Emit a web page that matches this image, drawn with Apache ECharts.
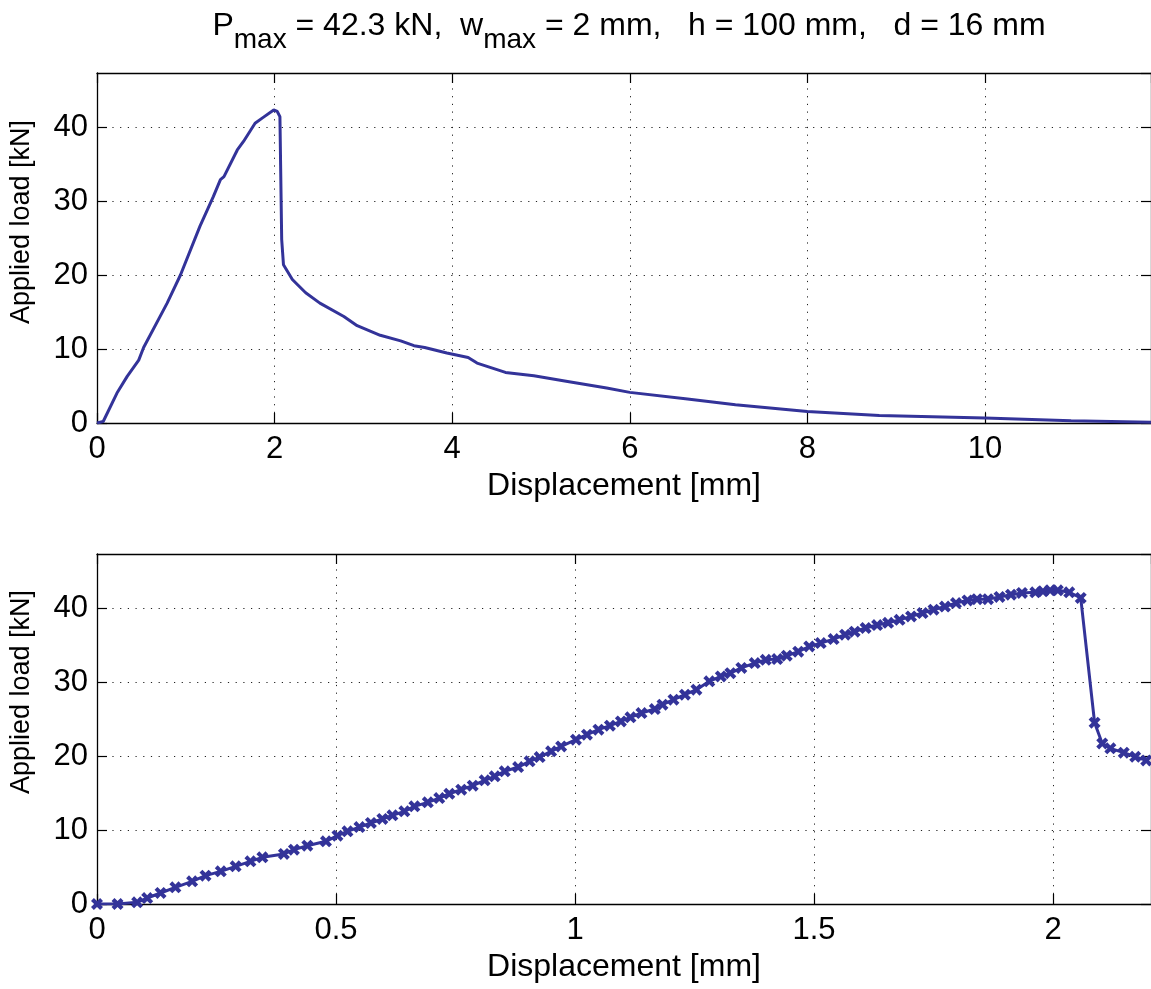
<!DOCTYPE html>
<html><head><meta charset="utf-8">
<script src="https://cdn.jsdelivr.net/npm/echarts@6/dist/echarts.min.js"></script>
<style>html,body{margin:0;padding:0;background:#fff}#c{width:1151px;height:989px}</style>
</head><body><div id="c"></div>
<script>
// ---- data ----
const topX = [0,0.07,0.225,0.34,0.47,0.525,0.79,0.94,1.16,1.31,1.39,1.43,1.58,1.65,1.78,1.86,1.99,2.03,2.06,2.08,2.10,2.20,2.35,2.51,2.78,2.93,3.19,3.42,3.57,3.69,3.94,4.18,4.28,4.60,4.92,5.30,5.74,6.00,6.65,7.19,8.0,8.81,10.0,10.97,11.87];
const topY = [0,0.2,4.05,6.3,8.5,10.2,16.2,20.0,26.6,30.6,32.9,33.3,36.9,38.05,40.5,41.2,42.3,42.1,41.4,24.8,21.4,19.4,17.6,16.2,14.4,13.15,11.85,11.1,10.45,10.2,9.45,8.85,8.1,6.84,6.39,5.62,4.73,4.14,3.24,2.47,1.57,1.03,0.68,0.31,0.09];

const botX = [0,0.043,0.084,0.105,0.133,0.164,0.199,0.227,0.259,0.29,0.321,0.346,0.391,0.412,0.44,0.479,0.503,0.524,0.549,0.573,0.597,0.618,0.643,0.664,0.692,0.716,0.737,0.762,0.786,0.811,0.832,0.853,0.881,0.905,0.926,0.95,0.971,1.002,1.025,1.049,1.073,1.096,1.116,1.139,1.167,1.183,1.206,1.230,1.254,1.281,1.305,1.325,1.348,1.376,1.399,1.423,1.443,1.467,1.490,1.514,1.541,1.565,1.585,1.608,1.632,1.655,1.679,1.703,1.727,1.750,1.774,1.797,1.821,1.841,1.864,1.888,1.912,1.935,1.963,1.979,1.994,2.010,2.034,2.058,2.087,2.103,2.120,2.148,2.172,2.195];
const botY = [0,0,0.23,0.81,1.49,2.25,3.06,3.83,4.41,5.09,5.77,6.31,6.76,7.34,7.88,8.47,9.23,9.82,10.4,10.95,11.49,11.98,12.52,13.2,13.74,14.32,14.9,15.45,15.99,16.71,17.25,17.93,18.51,19.28,19.86,20.63,21.3,22.2,22.88,23.56,24.1,24.68,25.23,25.81,26.35,26.94,27.61,28.29,28.96,30.1,30.76,31.2,31.9,32.56,33.0,33.1,33.55,34.1,34.8,35.26,35.8,36.4,36.8,37.3,37.7,38.0,38.4,38.87,39.32,39.77,40.2,40.67,41.03,41.2,41.2,41.5,41.8,42.04,42.13,42.26,42.4,42.4,42.13,41.36,24.5,21.7,21.04,20.45,19.9,19.4];

const topXTicks = [0,2,4,6,8,10];
const botXTicks = [0,0.5,1,1.5,2];
const yTicks = [0,10,20,30,40];

const titleParts = ['P','max',' = 42.3 kN,  w','max',' = 2 mm,   h = 100 mm,   d = 16 mm'];

// ---- styling ----
const FONT = "'Liberation Sans', Arial, Helvetica, sans-serif";
const LINE = '#333399';
const xMax = [11.87, 2.205];
const yMax = 47.3;

const chart = echarts.init(document.getElementById('c'), null, {renderer:'canvas'});

const grids = [
  {left:97, top:73, width:1054, height:350},
  {left:97, top:554, width:1054, height:350}
];

function fmtX(ticks){ return v => ticks.some(t => Math.abs(t - v) < 1e-9) ? String(v) : ''; }
function fmtY(v){ return yTicks.some(t => Math.abs(t - v) < 1e-9) ? String(v) : ''; }

const gridLine = {show:true, lineStyle:{color:'#222', width:1, type:[1.2,6.5]}};
const axLine = {show:true, onZero:false, lineStyle:{color:'#000', width:1.3}};
const tick = {show:true, inside:true, length:10, lineStyle:{color:'#000', width:1.2}};

const xAxes = [], yAxes = [];
[0,1].forEach(g => {
  const ticks = g === 0 ? topXTicks : botXTicks;
  const interval = g === 0 ? 2 : 0.5;
  xAxes.push({
    gridIndex:g, type:'value', position:'bottom', min:0, max:xMax[g], interval:interval,
    axisLine:axLine, axisTick:tick, splitLine:gridLine,
    axisLabel:{show:true, color:'#000', fontSize:31, fontFamily:FONT, margin:11, formatter:fmtX(ticks), showMaxLabel:false},
    name:'Displacement [mm]', nameLocation:'middle', nameGap:47,
    nameTextStyle:{color:'#000', fontSize:32, fontFamily:FONT}
  });
  xAxes.push({
    gridIndex:g, type:'value', position:'top', min:0, max:xMax[g], interval:interval,
    axisLine:axLine, axisTick:tick, splitLine:{show:false}, axisLabel:{show:false}
  });
  yAxes.push({
    gridIndex:g, type:'value', position:'left', min:0, max:yMax, interval:10,
    axisLine:axLine, axisTick:tick, splitLine:gridLine,
    axisLabel:{show:true, color:'#000', fontSize:31, fontFamily:FONT, margin:9, formatter:fmtY, showMaxLabel:false}
  });
  yAxes.push({
    gridIndex:g, type:'value', position:'right', min:0, max:yMax, interval:10,
    axisLine:axLine, axisTick:tick, splitLine:{show:false}, axisLabel:{show:false}
  });
});

const xSymbol = 'path://M0,2.4L2.4,0L5,2.6L7.6,0L10,2.4L7.4,5L10,7.6L7.6,10L5,7.4L2.4,10L0,7.6L2.6,5Z';

chart.setOption({
  animation:false,
  backgroundColor:'#fff',
  title:{
    text:'{t|' + titleParts[0] + '}{s|' + titleParts[1] + '}{t|' + titleParts[2] + '}{s|' + titleParts[3] + '}{t|' + titleParts[4] + '}',
    left:624, top:5, textAlign:'center',
    textStyle:{
      fontFamily:FONT, color:'#000', fontWeight:'normal',
      rich:{
        t:{fontSize:32, fontFamily:FONT, color:'#000', lineHeight:36, verticalAlign:'top'},
        s:{fontSize:28, fontFamily:FONT, color:'#000', lineHeight:32, padding:[16,0,0,0], verticalAlign:'top'}
      }
    }
  },
  grid:grids,
  xAxis:xAxes,
  yAxis:yAxes,
  graphic:[
    {type:'text', x:22, y:222, rotation:Math.PI/2,
     style:{text:'Applied load [kN]', fontSize:27, fontFamily:FONT, fill:'#000', align:'center', verticalAlign:'middle', textAlign:'center', textVerticalAlign:'middle'}},
    {type:'text', x:22, y:692, rotation:Math.PI/2,
     style:{text:'Applied load [kN]', fontSize:27, fontFamily:FONT, fill:'#000', align:'center', verticalAlign:'middle', textAlign:'center', textVerticalAlign:'middle'}}
  ],
  series:[
    {type:'line', xAxisIndex:0, yAxisIndex:0, data:topX.map((x,i)=>[x, topY[i]]),
     showSymbol:false, symbol:'none', lineStyle:{color:LINE, width:3}, clip:true},
    {type:'line', xAxisIndex:2, yAxisIndex:2, data:botX.map((x,i)=>[x, botY[i]]),
     symbol:xSymbol, symbolSize:12, itemStyle:{color:LINE, borderWidth:0},
     lineStyle:{color:LINE, width:3}, clip:true}
  ]
});
</script></body></html>
